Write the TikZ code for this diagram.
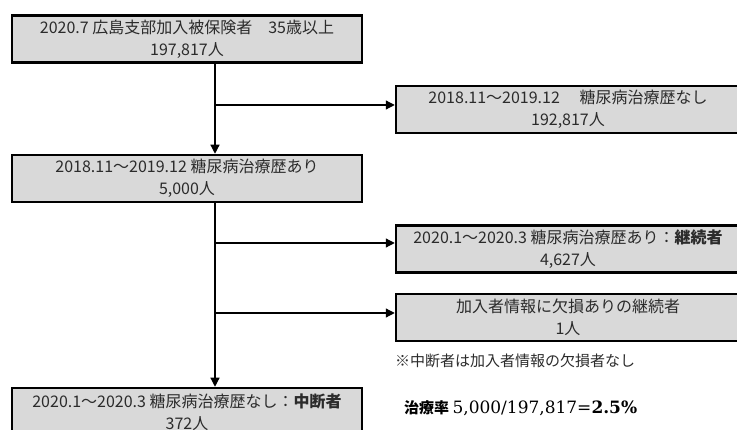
\documentclass[tikz,border=0pt]{standalone}
\usepackage{fontspec}
\setmainfont{Noto Sans CJK JP}
\newfontfamily\serifnum{DejaVu Serif}
\usetikzlibrary{arrows.meta}
\definecolor{boxgray}{HTML}{D9D9D9}
\definecolor{txt}{HTML}{2B2B2B}
\begin{document}
\begin{tikzpicture}[x=1pt,y=-1pt,
  box/.style={draw=black, line width=2.5pt, fill=boxgray, text=txt, align=center, inner sep=0pt, font=\fontsize{16}{22}\selectfont},
  leftbox/.style={box, minimum width=350, minimum height=47},
  rightbox/.style={box, minimum width=344, minimum height=47},
  conn/.style={line width=1.2pt, -{Triangle[width=9pt,length=9pt]}}]
\useasboundingbox (0,0) rectangle (737,430);
\node[leftbox] (b1) at (187,39) {2020.7 広島支部加入被保険者　35歳以上\\197,817人};
\node[rightbox] (b2) at (568,109.5) {2018.11～2019.12　 糖尿病治療歴なし\\192,817人};
\node[leftbox] (b3) at (187,178.5) {2018.11～2019.12 糖尿病治療歴あり\\5,000人};
\node[rightbox] (b4) at (568,249) {2020.1～2020.3 糖尿病治療歴あり：\textbf{継続者}\\4,627人};
\node[rightbox] (b5) at (568,317.5) {加入者情報に欠損ありの継続者\\1人};
\node[leftbox, minimum height=48] (b6) at (187,412) {2020.1～2020.3 糖尿病治療歴なし：\textbf{中断者}\\372人};
\node[anchor=west, text=txt, inner sep=0pt, font=\fontsize{15}{17}\selectfont] (note) at (395,361) {※中断者は加入者情報の欠損者なし};
\node[anchor=west, text=black, inner sep=0pt, font=\fontsize{15}{18}\selectfont] (rate) at (404,408) {\textbf{治療率} {\serifnum\fontsize{17}{18}\selectfont 5,000/197,817=\textbf{2.5\%}}};
\coordinate (vx) at (215,0);
\coordinate (j1) at (215,105);
\coordinate (j2) at (215,243);
\coordinate (j3) at (215,313);
\draw[conn] (b1.south -| vx) -- (b3.north -| vx);
\draw[conn] (j1) -- (j1 -| b2.west);
\draw[conn] (b3.south -| vx) -- (b6.north -| vx);
\draw[conn] (j2) -- (j2 -| b4.west);
\draw[conn] (j3) -- (j3 -| b5.west);
\end{tikzpicture}
\end{document}
